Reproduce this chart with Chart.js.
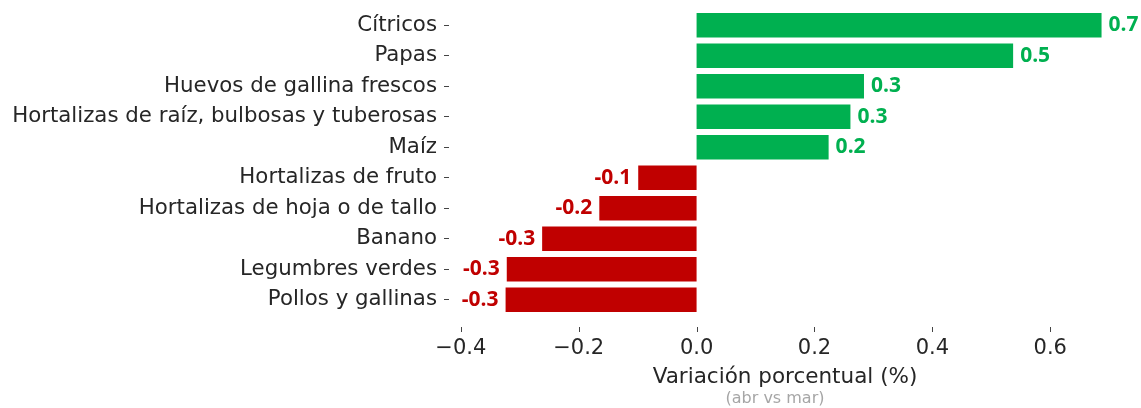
<!DOCTYPE html>
<html>
<head>
<meta charset="utf-8">
<script src="https://cdn.jsdelivr.net/npm/chart.js@4.4.1/dist/chart.umd.min.js"></script>
<style>
  html, body { margin: 0; padding: 0; background: #ffffff; }
  #wrap { width: 1141px; height: 408px; }
</style>
</head>
<body>
<div id="wrap"><canvas id="c" width="1141" height="408"></canvas></div>
<script>
// ---- data ----
const categories = [
  'Cítricos',
  'Papas',
  'Huevos de gallina frescos',
  'Hortalizas de raíz, bulbosas y tuberosas',
  'Maíz',
  'Hortalizas de fruto',
  'Hortalizas de hoja o de tallo',
  'Banano',
  'Legumbres verdes',
  'Pollos y gallinas'
];
const variation = [0.687, 0.537, 0.284, 0.261, 0.224, -0.099, -0.165, -0.262, -0.322, -0.324];
const xTickValues = [-0.4, -0.2, 0.0, 0.2, 0.4, 0.6];
const xTickLabels = ['\u22120.4', '\u22120.2', '0.0', '0.2', '0.4', '0.6'];
const xTitle = 'Variación porcentual (%)';
const xSubtitle = '(abr vs mar)';

const POS = '#00B050';
const NEG = '#C00000';
const TEXT = '#262626';
const FONT = "'DejaVu Sans', sans-serif";

const barColors = variation.map(v => v >= 0 ? POS : NEG);

const valueLabelPlugin = {
  id: 'valueLabels',
  afterDatasetsDraw(chart) {
    const ctx = chart.ctx;
    const meta = chart.getDatasetMeta(0);
    ctx.save();
    ctx.font = "bold 21px 'Open Sans', sans-serif";
    ctx.textBaseline = 'middle';
    meta.data.forEach((bar, i) => {
      const v = variation[i];
      const txt = v.toFixed(1);
      ctx.fillStyle = v >= 0 ? POS : NEG;
      if (v >= 0) { ctx.textAlign = 'left'; ctx.fillText(txt, bar.x + 7, bar.y); }
      else { ctx.textAlign = 'right'; ctx.fillText(txt, bar.x - 7, bar.y); }
    });
    ctx.restore();
  }
};

const xTickMarkPlugin = {
  id: 'xTickMarks',
  afterDraw(chart) {
    const ctx = chart.ctx;
    const xs = chart.scales.x;
    ctx.save();
    ctx.strokeStyle = '#444444';
    ctx.lineWidth = 1;
    xs.ticks.forEach(t => {
      const px = Math.round(xs.getPixelForValue(t.value)) + 0.5;
      ctx.beginPath();
      ctx.moveTo(px, 327);
      ctx.lineTo(px, 332);
      ctx.stroke();
    });
    // subtitle under the axis title
    ctx.fillStyle = '#a6a6a6';
    ctx.font = "16px " + FONT;
    ctx.textAlign = 'center';
    ctx.textBaseline = 'middle';
    ctx.fillText(xSubtitle, 775, 399);
    ctx.restore();
  }
};

new Chart(document.getElementById('c'), {
  type: 'bar',
  data: {
    labels: categories,
    datasets: [{
      data: variation,
      backgroundColor: barColors,
      borderWidth: 0,
      barPercentage: 0.8,
      categoryPercentage: 1.0
    }]
  },
  options: {
    indexAxis: 'y',
    responsive: false,
    animation: false,
    devicePixelRatio: 1,
    layout: { padding: { top: 10, right: 20, bottom: 0, left: 0 } },
    plugins: { legend: { display: false }, tooltip: { enabled: false } },
    scales: {
      x: {
        type: 'linear',
        min: -0.42,
        max: 0.72,
        afterBuildTicks(scale) { scale.ticks = xTickValues.map(v => ({ value: v })); },
        afterFit(scale) { scale.height = 93; scale.paddingLeft = 0; scale.paddingRight = 0; },
        grid: { display: false, drawTicks: false },
        border: { display: false },
        ticks: {
          padding: 21,
          color: TEXT,
          font: { family: FONT, size: 21 },
          callback: (value, index) => xTickLabels[index]
        },
        title: {
          display: true,
          text: xTitle,
          color: TEXT,
          font: { family: FONT, size: 21.5 },
          padding: { top: 0, bottom: 18 }
        }
      },
      y: {
        afterFit(scale) { scale.width = 449; scale.paddingTop = 0; scale.paddingBottom = 0; },
        grid: { display: true, offset: false, drawOnChartArea: false, drawTicks: true, tickLength: 5, tickColor: '#444444', tickWidth: 1 },
        border: { display: false },
        ticks: {
          autoSkip: false,
          padding: 7,
          color: TEXT,
          font: { family: FONT, size: 21.3 }
        }
      }
    }
  },
  plugins: [valueLabelPlugin, xTickMarkPlugin]
});
</script>
</body>
</html>
